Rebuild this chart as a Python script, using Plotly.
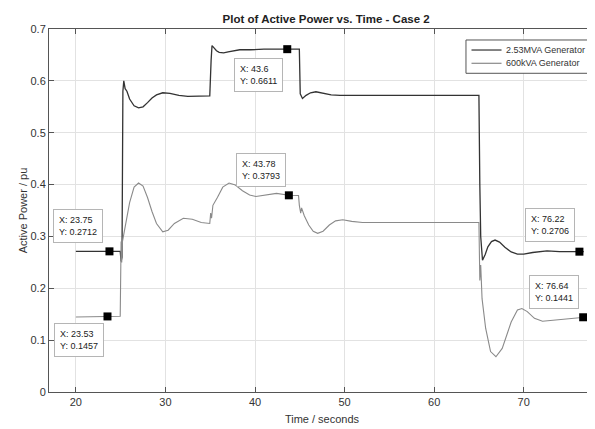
import plotly.graph_objects as go

# 2.53MVA generator (dark)
t_big = [20, 23.75, 24.95, 25.05, 25.15, 25.25, 25.35, 25.5, 25.7, 26.0, 26.5, 27.0, 27.5, 28.0,
         28.5, 29.0, 29.7, 30.5, 31.5, 32.5, 33.5, 34.95, 35.1, 35.2, 35.4, 35.7, 36.0, 36.5,
         37.0, 37.5, 38.3, 39.5, 41.0, 43.6, 44.95, 45.05, 45.3, 45.7, 46.2, 46.8, 47.5, 48.5,
         49.5, 52.0, 65.0, 65.1, 65.2, 65.4, 65.7, 66.0, 66.4, 66.8, 67.3, 67.9, 68.6, 69.3,
         70.0, 71.0, 72.6, 74.0, 76.22, 76.7]
p_big = [0.2712, 0.2712, 0.2712, 0.252, 0.26, 0.58, 0.600, 0.585, 0.580, 0.565, 0.552, 0.548,
         0.550, 0.558, 0.567, 0.573, 0.577, 0.576, 0.572, 0.570, 0.5705, 0.571, 0.64, 0.668,
         0.664, 0.658, 0.655, 0.654, 0.656, 0.658, 0.660, 0.660, 0.661, 0.6611, 0.661, 0.575,
         0.566, 0.572, 0.577, 0.579, 0.577, 0.573, 0.572, 0.572, 0.572, 0.40, 0.30, 0.254,
         0.265, 0.280, 0.290, 0.293, 0.289, 0.279, 0.270, 0.266, 0.266, 0.269, 0.272, 0.2708,
         0.2706, 0.2706]

# 600kVA generator (gray)
t_small = [20, 21.5, 23.53, 24.95, 25.05, 25.12, 25.2, 25.5, 26.0, 26.5, 27.0, 27.5, 28.0, 28.5,
           29.0, 29.7, 30.3, 31.0, 32.0, 33.0, 34.0, 34.95, 35.05, 35.15, 35.3, 35.8, 36.4, 37.1,
           37.8, 38.6, 39.4, 40.1, 41.0, 42.4, 43.78, 44.86, 44.95, 45.1, 45.2, 45.5, 46.0, 46.5,
           47.0, 47.6, 48.3, 49.0, 49.8, 50.8, 52.0, 55.0, 65.0, 65.1, 65.2, 65.35, 65.75, 66.3,
           66.9, 67.6, 68.1, 68.6, 69.3, 69.8, 70.4, 71.2, 72.1, 73.0, 74.1, 75.3, 76.64, 76.8]
p_small = [0.1445, 0.145, 0.1457, 0.146, 0.29, 0.25, 0.29, 0.32, 0.365, 0.395, 0.403, 0.397,
           0.375, 0.348, 0.325, 0.309, 0.312, 0.325, 0.335, 0.333, 0.327, 0.325, 0.345, 0.335,
           0.36, 0.375, 0.395, 0.403, 0.399, 0.388, 0.380, 0.377, 0.379, 0.383, 0.3793, 0.379,
           0.36, 0.345, 0.355, 0.340, 0.322, 0.310, 0.306, 0.310, 0.322, 0.330, 0.332, 0.329,
           0.327, 0.327, 0.327, 0.215, 0.245, 0.18, 0.123, 0.078, 0.068, 0.084, 0.11, 0.135,
           0.158, 0.161, 0.155, 0.142, 0.1365, 0.138, 0.140, 0.143, 0.1441, 0.1441]

# data tips
tip_x = [43.6, 43.78, 23.75, 23.53, 76.22, 76.64]
tip_y = [0.6611, 0.3793, 0.2712, 0.1457, 0.2706, 0.1441]
tip_labels = ["X: 43.6<br>Y: 0.6611", "X: 43.78<br>Y: 0.3793", "X: 23.75<br>Y: 0.2712",
              "X: 23.53<br>Y: 0.1457", "X: 76.22<br>Y: 0.2706", "X: 76.64<br>Y: 0.1441"]
tip_offsets = [(-29, 26), (-28, -25), (-31, -25), (-28, 24), (-29, -27), (-29, -25)]

series_names = ["2.53MVA Generator", "600kVA Generator"]
series_colors = ["#333333", "#8a8a8a"]

x_ticks = [20, 30, 40, 50, 60, 70]
y_ticks = [0, 0.1, 0.2, 0.3, 0.4, 0.5, 0.6, 0.7]
y_tick_text = ["0", "0.1", "0.2", "0.3", "0.4", "0.5", "0.6", "0.7"]

FONT = "Liberation Sans, Arial, sans-serif"

fig = go.Figure()
fig.add_trace(go.Scatter(x=t_big, y=p_big, mode="lines", name=series_names[0],
                         line=dict(color=series_colors[0], width=1.3)))
fig.add_trace(go.Scatter(x=t_small, y=p_small, mode="lines", name=series_names[1],
                         line=dict(color=series_colors[1], width=1.1)))
fig.add_trace(go.Scatter(x=tip_x, y=tip_y, mode="markers", showlegend=False,
                         marker=dict(symbol="square", size=8, color="black")))

for x, y, txt, (ax, ay) in zip(tip_x, tip_y, tip_labels, tip_offsets):
    fig.add_annotation(x=x, y=y, xref="x", yref="y", text=txt, showarrow=True,
                       ax=ax, ay=ay, arrowcolor="rgba(0,0,0,0)", arrowwidth=0.1,
                       align="left", font=dict(family=FONT, size=9, color="#222"),
                       bgcolor="rgba(255,255,255,0.95)", bordercolor="#b5b5b5",
                       borderwidth=1, borderpad=5)

# legend box (MATLAB style, drawn in paper coordinates)
fig.add_shape(type="rect", xref="paper", yref="paper", x0=0.7637, x1=0.9872, y0=0.878,
              y1=0.9697, line=dict(color="#555", width=1), fillcolor="white", layer="above")
leg_y = [0.9421, 0.9055]
for name, col, ly in zip(series_names, series_colors, leg_y):
    fig.add_shape(type="line", xref="paper", yref="paper", x0=0.7738, x1=0.8288, y0=ly, y1=ly,
                  line=dict(color=col, width=1.2), layer="above")
    fig.add_annotation(x=0.8333, y=ly, xref="paper", yref="paper", text=name, showarrow=False,
                       xanchor="left", yanchor="middle",
                       font=dict(family=FONT, size=9, color="#333"))

axis_common = dict(showline=True, linecolor="#555", linewidth=1, mirror="ticks",
                   ticks="inside", ticklen=5, tickcolor="#555", showgrid=True,
                   gridcolor="#e2e2e2", gridwidth=1, zeroline=False, automargin=False,
                   tickfont=dict(family=FONT, size=11, color="#333"))

fig.update_layout(
    width=587, height=421,
    margin=dict(l=41, r=0, t=21, b=37),
    paper_bgcolor="white", plot_bgcolor="white",
    title=dict(text="<b>Plot of Active Power vs. Time - Case 2</b>", x=0.542, xanchor="center",
               y=0.975, yanchor="middle",
               font=dict(family=FONT, size=11.5, color="#222")),
    xaxis=dict(range=[17, 77.96], tickvals=x_ticks, ticktext=[str(v) for v in x_ticks],
               title=dict(text="Time / seconds", standoff=8,
                          font=dict(family=FONT, size=11, color="#333")),
               **axis_common),
    yaxis=dict(range=[0, 0.7], tickvals=y_ticks, ticktext=y_tick_text,
               title=dict(text="Active Power / pu", standoff=0,
                          font=dict(family=FONT, size=11, color="#333")),
               **axis_common),
    showlegend=False,
)

fig.write_html("out.html")
